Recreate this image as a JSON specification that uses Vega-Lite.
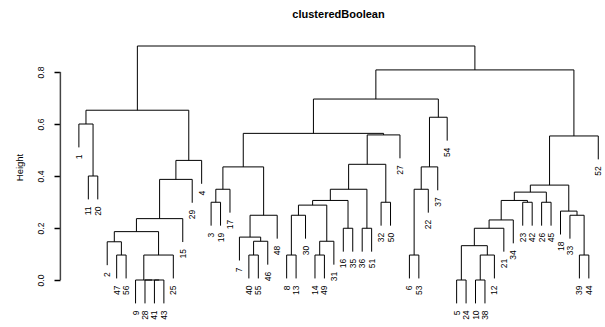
{
  "$schema": "https://vega.github.io/schema/vega-lite/v6.json",
  "width": 543,
  "height": 286,
  "autosize": {"type": "none"},
  "padding": {"left": 60, "top": 33, "right": 2, "bottom": 8},
  "background": "white",
  "config": {"view": {"stroke": null}, "font": "Liberation Sans"},
  "title": {"text": "clusteredBoolean", "fontSize": 11, "fontWeight": "bold", "font": "Liberation Sans", "color": "black", "anchor": "middle", "frame": "group", "baseline": "alphabetic", "offset": 4, "dx": 7},
  "datasets": {
    "hseg": [
      {"x":2,"x2":3,"y":0.40},{"x":1,"x2":2.5,"y":0.60},{"x":9,"x2":10,"y":0},{"x":8,"x2":9.5,"y":0},{"x":7,"x2":8.75,"y":0},{"x":7.875,"x2":11,"y":0.096},{"x":5,"x2":6,"y":0.096},{"x":4,"x2":5.5,"y":0.147},{"x":4.75,"x2":9.4375,"y":0.186},{"x":7.09375,"x2":12,"y":0.236},{"x":9.546875,"x2":13,"y":0.387},{"x":11.2734,"x2":14,"y":0.46},{"x":1.75,"x2":12.6367,"y":0.653},
      {"x":15,"x2":16,"y":0.299},{"x":15.5,"x2":17,"y":0.349},{"x":19,"x2":20,"y":0.096},{"x":19.5,"x2":21,"y":0.149},{"x":18,"x2":20.25,"y":0.165},{"x":19.125,"x2":22,"y":0.249},{"x":16.25,"x2":20.5625,"y":0.435},{"x":23,"x2":24,"y":0.096},{"x":23.5,"x2":25,"y":0.249},{"x":26,"x2":27,"y":0.096},{"x":26.5,"x2":28,"y":0.149},{"x":24.25,"x2":27.25,"y":0.288},{"x":29,"x2":30,"y":0.199},{"x":25.75,"x2":29.5,"y":0.306},{"x":31,"x2":32,"y":0.199},{"x":27.625,"x2":31.5,"y":0.349},{"x":33,"x2":34,"y":0.299},{"x":29.5625,"x2":33.5,"y":0.445},{"x":31.53125,"x2":35,"y":0.558},{"x":18.40625,"x2":33.265625,"y":0.564},{"x":36,"x2":37,"y":0.096},{"x":36.5,"x2":38,"y":0.349},{"x":37.25,"x2":39,"y":0.435},{"x":38.125,"x2":40,"y":0.626},{"x":25.8359,"x2":39.0625,"y":0.696},
      {"x":41,"x2":42,"y":0},{"x":43,"x2":44,"y":0},{"x":43.5,"x2":45,"y":0.096},{"x":41.5,"x2":44.25,"y":0.132},{"x":42.875,"x2":46,"y":0.199},{"x":44.4375,"x2":47,"y":0.231},{"x":48,"x2":49,"y":0.299},{"x":45.71875,"x2":48.5,"y":0.306},{"x":50,"x2":51,"y":0.299},{"x":47.109375,"x2":50.5,"y":0.338},{"x":54,"x2":55,"y":0.096},{"x":53,"x2":54.5,"y":0.249},{"x":52,"x2":53.75,"y":0.265},{"x":48.8047,"x2":52.875,"y":0.365},{"x":50.8398,"x2":56,"y":0.554},{"x":32.449,"x2":53.42,"y":0.808},{"x":7.1934,"x2":42.9345,"y":0.90}
    ],
    "vseg": [
      {"x":2,"y":0.40,"y2":0.31},{"x":3,"y":0.40,"y2":0.31},
      {"x":1,"y":0.60,"y2":0.51},{"x":2.5,"y":0.60,"y2":0.40},
      {"x":9,"y":0,"y2":-0.09},{"x":10,"y":0,"y2":-0.09},{"x":8,"y":0,"y2":-0.09},{"x":7,"y":0,"y2":-0.09},
      {"x":7.875,"y":0.096,"y2":0},{"x":11,"y":0.096,"y2":0.006},
      {"x":5,"y":0.096,"y2":0.006},{"x":6,"y":0.096,"y2":0.006},
      {"x":4,"y":0.147,"y2":0.057},{"x":5.5,"y":0.147,"y2":0.096},
      {"x":4.75,"y":0.186,"y2":0.147},{"x":9.4375,"y":0.186,"y2":0.096},
      {"x":7.09375,"y":0.236,"y2":0.186},{"x":12,"y":0.236,"y2":0.146},
      {"x":9.546875,"y":0.387,"y2":0.236},{"x":13,"y":0.387,"y2":0.297},
      {"x":11.2734,"y":0.46,"y2":0.387},{"x":14,"y":0.46,"y2":0.37},
      {"x":1.75,"y":0.653,"y2":0.60},{"x":12.6367,"y":0.653,"y2":0.46},
      {"x":15,"y":0.299,"y2":0.209},{"x":16,"y":0.299,"y2":0.209},
      {"x":15.5,"y":0.349,"y2":0.299},{"x":17,"y":0.349,"y2":0.259},
      {"x":19,"y":0.096,"y2":0.006},{"x":20,"y":0.096,"y2":0.006},
      {"x":19.5,"y":0.149,"y2":0.096},{"x":21,"y":0.149,"y2":0.059},
      {"x":18,"y":0.165,"y2":0.075},{"x":20.25,"y":0.165,"y2":0.149},
      {"x":19.125,"y":0.249,"y2":0.165},{"x":22,"y":0.249,"y2":0.159},
      {"x":16.25,"y":0.435,"y2":0.349},{"x":20.5625,"y":0.435,"y2":0.249},
      {"x":23,"y":0.096,"y2":0.006},{"x":24,"y":0.096,"y2":0.006},
      {"x":23.5,"y":0.249,"y2":0.096},{"x":25,"y":0.249,"y2":0.159},
      {"x":26,"y":0.096,"y2":0.006},{"x":27,"y":0.096,"y2":0.006},
      {"x":26.5,"y":0.149,"y2":0.096},{"x":28,"y":0.149,"y2":0.059},
      {"x":24.25,"y":0.288,"y2":0.249},{"x":27.25,"y":0.288,"y2":0.149},
      {"x":29,"y":0.199,"y2":0.109},{"x":30,"y":0.199,"y2":0.109},
      {"x":25.75,"y":0.306,"y2":0.288},{"x":29.5,"y":0.306,"y2":0.199},
      {"x":31,"y":0.199,"y2":0.109},{"x":32,"y":0.199,"y2":0.109},
      {"x":27.625,"y":0.349,"y2":0.306},{"x":31.5,"y":0.349,"y2":0.199},
      {"x":33,"y":0.299,"y2":0.209},{"x":34,"y":0.299,"y2":0.209},
      {"x":29.5625,"y":0.445,"y2":0.349},{"x":33.5,"y":0.445,"y2":0.299},
      {"x":31.53125,"y":0.558,"y2":0.445},{"x":35,"y":0.558,"y2":0.468},
      {"x":18.40625,"y":0.564,"y2":0.435},{"x":33.265625,"y":0.564,"y2":0.558},
      {"x":36,"y":0.096,"y2":0.006},{"x":37,"y":0.096,"y2":0.006},
      {"x":36.5,"y":0.349,"y2":0.096},{"x":38,"y":0.349,"y2":0.259},
      {"x":37.25,"y":0.435,"y2":0.349},{"x":39,"y":0.435,"y2":0.345},
      {"x":38.125,"y":0.626,"y2":0.435},{"x":40,"y":0.626,"y2":0.536},
      {"x":25.8359,"y":0.696,"y2":0.564},{"x":39.0625,"y":0.696,"y2":0.626},
      {"x":41,"y":0,"y2":-0.09},{"x":42,"y":0,"y2":-0.09},
      {"x":43,"y":0,"y2":-0.09},{"x":44,"y":0,"y2":-0.09},
      {"x":43.5,"y":0.096,"y2":0},{"x":45,"y":0.096,"y2":0.006},
      {"x":41.5,"y":0.132,"y2":0},{"x":44.25,"y":0.132,"y2":0.096},
      {"x":42.875,"y":0.199,"y2":0.132},{"x":46,"y":0.199,"y2":0.109},
      {"x":44.4375,"y":0.231,"y2":0.199},{"x":47,"y":0.231,"y2":0.141},
      {"x":48,"y":0.299,"y2":0.209},{"x":49,"y":0.299,"y2":0.209},
      {"x":45.71875,"y":0.306,"y2":0.231},{"x":48.5,"y":0.306,"y2":0.299},
      {"x":50,"y":0.299,"y2":0.209},{"x":51,"y":0.299,"y2":0.209},
      {"x":47.109375,"y":0.338,"y2":0.306},{"x":50.5,"y":0.338,"y2":0.299},
      {"x":54,"y":0.096,"y2":0.006},{"x":55,"y":0.096,"y2":0.006},
      {"x":53,"y":0.249,"y2":0.159},{"x":54.5,"y":0.249,"y2":0.096},
      {"x":52,"y":0.265,"y2":0.175},{"x":53.75,"y":0.265,"y2":0.249},
      {"x":48.8047,"y":0.365,"y2":0.338},{"x":52.875,"y":0.365,"y2":0.265},
      {"x":50.8398,"y":0.554,"y2":0.365},{"x":56,"y":0.554,"y2":0.464},
      {"x":32.449,"y":0.808,"y2":0.696},{"x":53.42,"y":0.808,"y2":0.554},
      {"x":7.1934,"y":0.90,"y2":0.653},{"x":42.9345,"y":0.90,"y2":0.808}
    ],
    "leaves": [
      {"leaf":"1","pos":1,"low":0.51},{"leaf":"11","pos":2,"low":0.31},{"leaf":"20","pos":3,"low":0.31},{"leaf":"2","pos":4,"low":0.057},{"leaf":"47","pos":5,"low":0.006},{"leaf":"56","pos":6,"low":0.006},{"leaf":"9","pos":7,"low":-0.09},{"leaf":"28","pos":8,"low":-0.09},{"leaf":"41","pos":9,"low":-0.09},{"leaf":"43","pos":10,"low":-0.09},{"leaf":"25","pos":11,"low":0.006},{"leaf":"15","pos":12,"low":0.146},{"leaf":"29","pos":13,"low":0.297},{"leaf":"4","pos":14,"low":0.37},
      {"leaf":"3","pos":15,"low":0.209},{"leaf":"19","pos":16,"low":0.209},{"leaf":"17","pos":17,"low":0.259},{"leaf":"7","pos":18,"low":0.075},{"leaf":"40","pos":19,"low":0.006},{"leaf":"55","pos":20,"low":0.006},{"leaf":"46","pos":21,"low":0.059},{"leaf":"48","pos":22,"low":0.159},{"leaf":"8","pos":23,"low":0.006},{"leaf":"13","pos":24,"low":0.006},{"leaf":"30","pos":25,"low":0.159},{"leaf":"14","pos":26,"low":0.006},{"leaf":"49","pos":27,"low":0.006},{"leaf":"31","pos":28,"low":0.059},{"leaf":"16","pos":29,"low":0.109},{"leaf":"35","pos":30,"low":0.109},{"leaf":"36","pos":31,"low":0.109},{"leaf":"51","pos":32,"low":0.109},{"leaf":"32","pos":33,"low":0.209},{"leaf":"50","pos":34,"low":0.209},{"leaf":"27","pos":35,"low":0.468},
      {"leaf":"6","pos":36,"low":0.006},{"leaf":"53","pos":37,"low":0.006},{"leaf":"22","pos":38,"low":0.259},{"leaf":"37","pos":39,"low":0.345},{"leaf":"54","pos":40,"low":0.536},
      {"leaf":"5","pos":41,"low":-0.09},{"leaf":"24","pos":42,"low":-0.09},{"leaf":"10","pos":43,"low":-0.09},{"leaf":"38","pos":44,"low":-0.09},{"leaf":"12","pos":45,"low":0.006},{"leaf":"21","pos":46,"low":0.109},{"leaf":"34","pos":47,"low":0.141},{"leaf":"23","pos":48,"low":0.209},{"leaf":"42","pos":49,"low":0.209},{"leaf":"26","pos":50,"low":0.209},{"leaf":"45","pos":51,"low":0.209},{"leaf":"18","pos":52,"low":0.175},{"leaf":"33","pos":53,"low":0.159},{"leaf":"39","pos":54,"low":0.006},{"leaf":"44","pos":55,"low":0.006},{"leaf":"52","pos":56,"low":0.464}
    ],
    "axisline": [{"at": -0.96, "from": 0, "to": 0.8}]
  },
  "layer": [
    {
      "data": {"name": "axisline"},
      "mark": {"type": "rule", "color": "#444444", "strokeWidth": 1.5, "clip": false},
      "encoding": {
        "x": {"field": "at", "type": "quantitative", "scale": {"domain": [-1, 56.5], "nice": false, "zero": false}, "axis": null},
        "y": {"field": "from", "type": "quantitative", "scale": {"domain": [-0.15, 0.95], "nice": false, "zero": false},
          "axis": {"orient": "left", "values": [0, 0.2, 0.4, 0.6, 0.8], "format": ".1f", "domain": false, "grid": false,
            "ticks": true, "tickSize": 6, "tickWidth": 1.5, "tickColor": "black", "labelAngle": 270, "labelAlign": "center", "labelBaseline": "bottom", "labelPadding": 9,
            "labelFontSize": 8.5, "labelFont": "Liberation Sans", "labelColor": "black",
            "title": "Height", "titleFontSize": 9.5, "titleFont": "Liberation Sans", "titleFontWeight": "normal", "titleColor": "black",
            "titleAngle": 270, "titleAlign": "center", "titleBaseline": "middle", "titleX": -41, "titleY": 134}},
        "y2": {"field": "to"}
      }
    },
    {
      "data": {"name": "hseg"},
      "mark": {"type": "rule", "color": "black", "strokeWidth": 1, "clip": false},
      "encoding": {
        "x": {"field": "x", "type": "quantitative"},
        "x2": {"field": "x2"},
        "y": {"field": "y", "type": "quantitative"}
      }
    },
    {
      "data": {"name": "vseg"},
      "mark": {"type": "rule", "color": "black", "strokeWidth": 1, "clip": false},
      "encoding": {
        "x": {"field": "x", "type": "quantitative"},
        "y": {"field": "y", "type": "quantitative"},
        "y2": {"field": "y2"}
      }
    },
    {
      "data": {"name": "leaves"},
      "mark": {"type": "text", "angle": 270, "align": "right", "baseline": "middle", "dx": -7, "fontSize": 8.5, "font": "Liberation Sans", "color": "black", "clip": false},
      "encoding": {
        "x": {"field": "pos", "type": "quantitative"},
        "y": {"field": "low", "type": "quantitative"},
        "text": {"field": "leaf", "type": "nominal"}
      }
    }
  ]
}
